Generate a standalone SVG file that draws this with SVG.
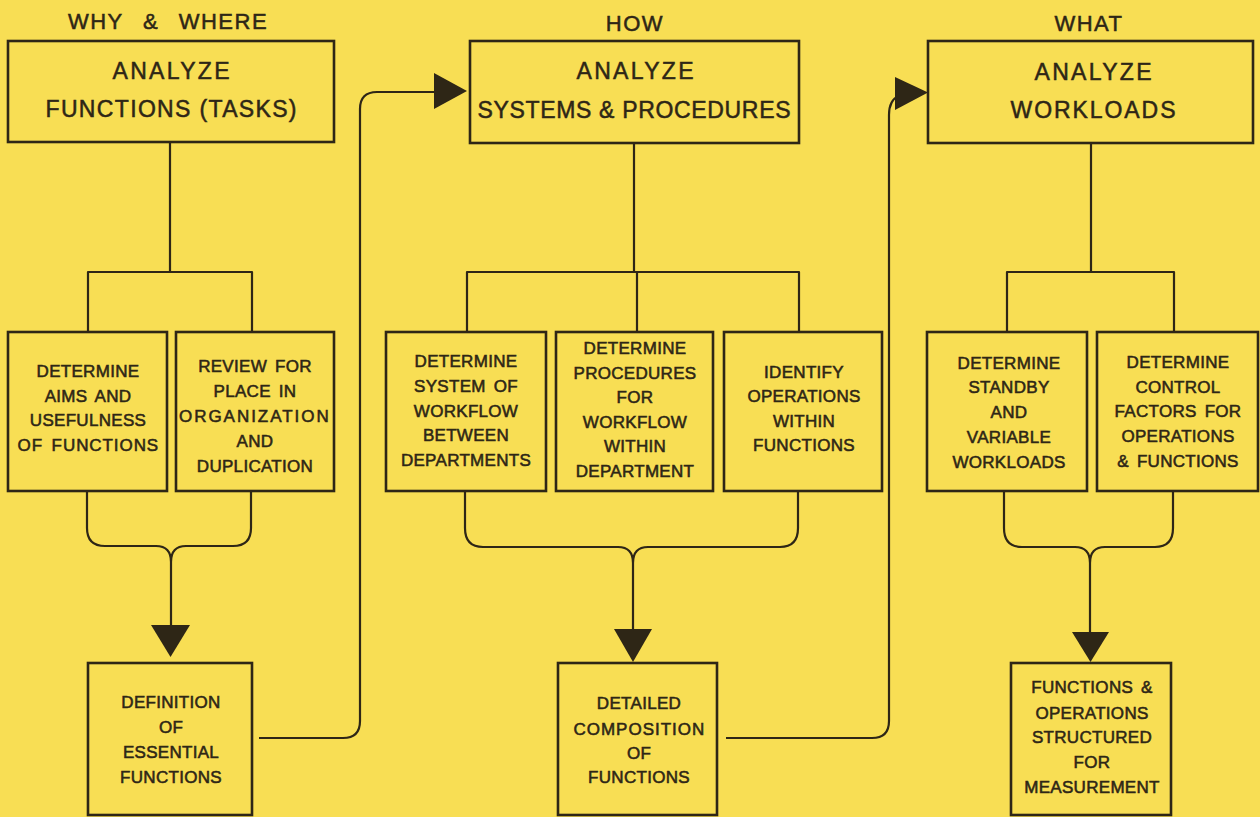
<svg xmlns="http://www.w3.org/2000/svg" width="1260" height="817" viewBox="0 0 1260 817">
<style>
.box{fill:none;stroke:#2e2616;stroke-width:2.6}
.ln{fill:none;stroke:#2e2616;stroke-width:2.2;stroke-linecap:butt;stroke-linejoin:round}
.ah{fill:#2e2616}
text{font-family:"Liberation Sans",Arial,sans-serif;fill:#2e2616;stroke:#2e2616;text-anchor:middle}
.hd{font-size:22px;stroke-width:0.5;letter-spacing:1.5px;word-spacing:12px}
.tt{font-size:23px;stroke-width:0.5}
.st{font-size:17px;letter-spacing:0.3px;word-spacing:3px;stroke-width:0.55}
</style>
<rect x="0" y="0" width="1260" height="817" fill="#f8de54"/>

<text class="hd" x="168" y="29">WHY &amp; WHERE</text>
<text class="hd" x="635" y="31">HOW</text>
<text class="hd" x="1089" y="31">WHAT</text>

<g id="connectors">
  <path class="ln" d="M170 142 V272 M88 331 V272 H252 V331"/>
  <path class="ln" d="M634 143 V272 M467 332 V272 H799 V332 M637 272 V332"/>
  <path class="ln" d="M1091 143 V272 M1007 332 V272 H1174 V332"/>
  <path class="ln" d="M87 491 V528 Q87 546 105 546 H156 Q171 546 171 562 M251 491 V528 Q251 546 233 546 H186 Q171 546 171 562 V626"/>
  <polygon class="ah" points="151,625 190,625 170.5,657"/>
  <path class="ln" d="M465 491 V528 Q465 547 483 547 H618 Q633 547 633 563 M798 491 V528 Q798 547 780 547 H648 Q633 547 633 563 V630"/>
  <polygon class="ah" points="614,629 652,629 633,662"/>
  <path class="ln" d="M1004 491 V528 Q1004 547 1022 547 H1075 Q1090 547 1090 563 V633 M1173 491 V528 Q1173 547 1155 547 H1105 Q1090 547 1090 563"/>
  <polygon class="ah" points="1072,632 1109,632 1090.5,662"/>
  <path class="ln" d="M259 738 H343 Q360 738 360 721 V109 Q360 92 377 92 H438"/>
  <polygon class="ah" points="434,73 434,109 467,91"/>
  <path class="ln" d="M726 738 H872 Q889 738 889 721 V115 Q889 100 899 96"/>
  <polygon class="ah" points="895,77 895,110 928,92.5"/>
</g>

<g id="n-analyze-functions">
  <rect class="box" x="8" y="41" width="326" height="101"/>
  <text class="tt" x="171" y="79" textLength="117" lengthAdjust="spacing">ANALYZE</text>
  <text class="tt" x="171" y="117" textLength="251" lengthAdjust="spacing">FUNCTIONS (TASKS)</text>
</g>
<g id="n-analyze-systems">
  <rect class="box" x="470" y="41" width="329" height="102"/>
  <text class="tt" x="635" y="79" textLength="117" lengthAdjust="spacing">ANALYZE</text>
  <text class="tt" x="634" y="118" textLength="313" lengthAdjust="spacing">SYSTEMS &amp; PROCEDURES</text>
</g>
<g id="n-analyze-workloads">
  <rect class="box" x="928" y="41" width="325" height="102"/>
  <text class="tt" x="1093" y="80" textLength="117" lengthAdjust="spacing">ANALYZE</text>
  <text class="tt" x="1093" y="118" textLength="165" lengthAdjust="spacing">WORKLOADS</text>
</g>

<g id="n-aims">
  <rect class="box" x="8" y="332" width="159" height="159"/>
  <text class="st" x="88" y="377">DETERMINE</text>
  <text class="st" x="88" y="402">AIMS AND</text>
  <text class="st" x="88" y="426">USEFULNESS</text>
  <text class="st" x="88" y="451" textLength="141" lengthAdjust="spacing">OF FUNCTIONS</text>
</g>
<g id="n-review">
  <rect class="box" x="176" y="332" width="158" height="159"/>
  <text class="st" x="255" y="372">REVIEW FOR</text>
  <text class="st" x="255" y="397">PLACE IN</text>
  <text class="st" x="254" y="422" textLength="150" lengthAdjust="spacing">ORGANIZATION</text>
  <text class="st" x="255" y="447">AND</text>
  <text class="st" x="255" y="472">DUPLICATION</text>
</g>
<g id="n-system-workflow">
  <rect class="box" x="386" y="332" width="160" height="159"/>
  <text class="st" x="466" y="367">DETERMINE</text>
  <text class="st" x="466" y="392">SYSTEM OF</text>
  <text class="st" x="466" y="417">WORKFLOW</text>
  <text class="st" x="466" y="441">BETWEEN</text>
  <text class="st" x="466" y="466">DEPARTMENTS</text>
</g>
<g id="n-procedures">
  <rect class="box" x="556" y="332" width="157" height="159"/>
  <text class="st" x="635" y="354">DETERMINE</text>
  <text class="st" x="635" y="379">PROCEDURES</text>
  <text class="st" x="635" y="403">FOR</text>
  <text class="st" x="635" y="428">WORKFLOW</text>
  <text class="st" x="635" y="452">WITHIN</text>
  <text class="st" x="635" y="477">DEPARTMENT</text>
</g>
<g id="n-operations">
  <rect class="box" x="724" y="332" width="158" height="159"/>
  <text class="st" x="804" y="378">IDENTIFY</text>
  <text class="st" x="804" y="402">OPERATIONS</text>
  <text class="st" x="804" y="427">WITHIN</text>
  <text class="st" x="804" y="451">FUNCTIONS</text>
</g>
<g id="n-standby">
  <rect class="box" x="927" y="332" width="160" height="159"/>
  <text class="st" x="1009" y="369">DETERMINE</text>
  <text class="st" x="1009" y="393">STANDBY</text>
  <text class="st" x="1009" y="418">AND</text>
  <text class="st" x="1009" y="443">VARIABLE</text>
  <text class="st" x="1009" y="468">WORKLOADS</text>
</g>
<g id="n-control">
  <rect class="box" x="1097" y="332" width="161" height="159"/>
  <text class="st" x="1178" y="368">DETERMINE</text>
  <text class="st" x="1178" y="393">CONTROL</text>
  <text class="st" x="1178" y="417">FACTORS FOR</text>
  <text class="st" x="1178" y="442">OPERATIONS</text>
  <text class="st" x="1178" y="467">&amp; FUNCTIONS</text>
</g>

<g id="n-definition">
  <rect class="box" x="88" y="663" width="164" height="152"/>
  <text class="st" x="171" y="708">DEFINITION</text>
  <text class="st" x="171" y="733">OF</text>
  <text class="st" x="171" y="758">ESSENTIAL</text>
  <text class="st" x="171" y="783">FUNCTIONS</text>
</g>
<g id="n-composition">
  <rect class="box" x="558" y="663" width="159" height="152"/>
  <text class="st" x="639" y="709">DETAILED</text>
  <text class="st" x="639" y="735" textLength="131" lengthAdjust="spacing">COMPOSITION</text>
  <text class="st" x="639" y="759">OF</text>
  <text class="st" x="639" y="783">FUNCTIONS</text>
</g>
<g id="n-structured">
  <rect class="box" x="1011" y="663" width="160" height="152"/>
  <text class="st" x="1092" y="693">FUNCTIONS &amp;</text>
  <text class="st" x="1092" y="719">OPERATIONS</text>
  <text class="st" x="1092" y="743">STRUCTURED</text>
  <text class="st" x="1092" y="768">FOR</text>
  <text class="st" x="1092" y="793">MEASUREMENT</text>
</g>
</svg>
